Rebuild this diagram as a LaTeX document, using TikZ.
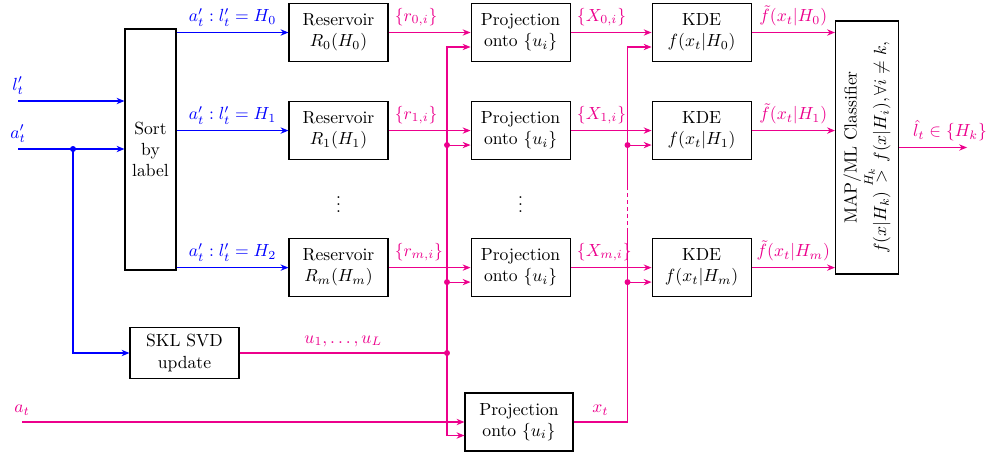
\documentclass[tikz,border=0pt]{standalone}
\usepackage{tikz}
\usetikzlibrary{arrows.meta,positioning,calc}
\definecolor{rosa}{RGB}{236,0,140}
\definecolor{azul}{RGB}{0,0,255}

\begin{document}
\begin{tikzpicture}[
    caja/.style={draw,line width=0.6pt,minimum width=1.98cm,minimum height=1.16cm,
                 align=center,inner sep=1pt},
    flecha/.style={->,line width=0.6pt},
    linea/.style={line width=0.6pt},
    punto/.style={circle,fill,inner sep=0pt,minimum size=3.4pt},
    >={Stealth[length=4.5pt,width=3.6pt]},node distance=0.78cm]
  \useasboundingbox (0,0) rectangle (19.76,-9.06);
  % bloques
  \node[caja] (res0) at (6.77,-0.65) {Reservoir\\$R_0(H_0)$};
  \node[caja,below=of res0] (res1) {Reservoir\\$R_1(H_1)$};
  \node[caja,below=1.56cm of res1] (resm) {Reservoir\\$R_m(H_m)$};
  \node[caja,right=1.64cm of res0] (proj0) {Projection\\onto $\{u_i\}$};
  \node[caja,right=1.64cm of res1] (proj1) {Projection\\onto $\{u_i\}$};
  \node[caja,right=1.64cm of resm] (projm) {Projection\\onto $\{u_i\}$};
  \node[caja,right=1.62cm of proj0] (kde0) {KDE\\$f(x_t|H_0)$};
  \node[caja,right=1.62cm of proj1] (kde1) {KDE\\$f(x_t|H_1)$};
  \node[caja,right=1.62cm of projm] (kdem) {KDE\\$f(x_t|H_m)$};
  \node[caja,minimum width=1.02cm,minimum height=4.82cm] (sort) at (3.01,-2.99) {Sort\\by\\label};
  \node[caja,minimum width=2.18cm,minimum height=1.02cm] (skl) at (3.69,-7.06) {SKL SVD\\update};
  \node[caja,minimum width=2.16cm] (projx) at (10.38,-8.44) {Projection\\onto $\{u_i\}$};
  \node[caja,rotate=90,minimum width=5.06cm,minimum height=1.26cm] (cls) at (17.34,-2.95)
    {MAP/ML Classifier\\$f(x|H_k)\stackrel{H_k}{>}f(x|H_i),\forall i\neq k,$};
  \node (vd1) at ($(res1)!0.5!(resm)$) {$\vdots$};
  \node (vd2) at ($(proj1)!0.5!(projm)$) {$\vdots$};
  % entradas
  \coordinate (lin) at (0.36,-2.02);
  \coordinate (ain) at (0.36,-2.98);
  \coordinate (asp) at (1.46,-2.98);
  \coordinate (atin) at (0.44,-8.44);
  \draw[flecha,azul] (lin) node[above]{$l'_t$} -- (lin -| sort.west);
  \draw[flecha,azul] (ain) node[above]{$a'_t$} -- (ain -| sort.west);
  \draw[flecha,azul] (asp) |- (skl.west);
  \node[punto,azul] (pa) at (asp) {};
  \draw[flecha,rosa] (atin) node[above]{$a_t$} -- (atin -| projx.west);
  % salidas del sort
  \draw[flecha,azul] (sort.east |- res0) -- node[above]{$a'_t : l'_t = H_0$} (res0.west);
  \draw[flecha,azul] (sort.east |- res1) -- node[above]{$a'_t : l'_t = H_1$} (res1.west);
  \draw[flecha,azul] (sort.east |- resm) -- node[above]{$a'_t : l'_t = H_2$} (resm.west);
  % reservorios -> proyecciones -> KDE
  \draw[flecha,rosa] (res0) -- node[above right,pos=0]{$\{r_{0,i}\}$} (proj0);
  \draw[flecha,rosa] (res1) -- node[above right,pos=0]{$\{r_{1,i}\}$} (proj1);
  \draw[flecha,rosa] (resm) -- node[above right,pos=0]{$\{r_{m,i}\}$} (projm);
  \draw[flecha,rosa] (proj0) -- node[above right,pos=0]{$\{X_{0,i}\}$} (kde0);
  \draw[flecha,rosa] (proj1) -- node[above right,pos=0]{$\{X_{1,i}\}$} (kde1);
  \draw[flecha,rosa] (projm) -- node[above right,pos=0]{$\{X_{m,i}\}$} (kdem);
  \draw[flecha,rosa] (kde0) -- node[above]{$\tilde{f}(x_t|H_0)$} (kde0 -| cls.north);
  \draw[flecha,rosa] (kde1) -- node[above]{$\tilde{f}(x_t|H_1)$} (kde1 -| cls.north);
  \draw[flecha,rosa] (kdem) -- node[above]{$\tilde{f}(x_t|H_m)$} (kdem -| cls.north);
  \coordinate (lout) at ($(cls.south)+(1.36,0)$);
  \draw[flecha,rosa] (cls.south) -- node[above,pos=0.75]{$\hat{l}_t \in \{H_k\}$} (lout);
  % bus u
  \coordinate (bus) at (8.94,-7.06);
  \coordinate (p0b) at ($(proj0.west)+(0,-0.29)$);
  \coordinate (p1b) at ($(proj1.west)+(0,-0.29)$);
  \coordinate (pmb) at ($(projm.west)+(0,-0.29)$);
  \coordinate (pxb) at ($(projx.west)+(0,-0.27)$);
  \draw[linea,rosa] (skl.east) -- node[above]{$u_1,\dots,u_L$} (bus);
  \draw[flecha,rosa] (bus) |- (p0b);
  \draw[flecha,rosa] (bus) |- (pxb);
  \draw[flecha,rosa] (bus |- p1b) -- (p1b);
  \draw[flecha,rosa] (bus |- pmb) -- (pmb);
  \node[punto,rosa] (pu) at (bus) {};
  \node[punto,rosa] (pu1) at (bus |- p1b) {};
  \node[punto,rosa] (pum) at (bus |- pmb) {};
  % bus x_t
  \coordinate (xb) at ($(projx.east)+(1.08,0)$);
  \coordinate (xc1) at (xb |- 0,-4.64);
  \coordinate (xc2) at (xb |- 0,-3.8);
  \coordinate (k0b) at ($(kde0.west)+(0,-0.29)$);
  \coordinate (k1b) at ($(kde1.west)+(0,-0.29)$);
  \coordinate (kmb) at ($(kdem.west)+(0,-0.29)$);
  \draw[linea,rosa] (projx.east) -- node[above]{$x_t$} (xb) -- (xc1);
  \draw[linea,rosa,dash pattern=on 2pt off 2pt] (xc1) -- (xc2);
  \draw[flecha,rosa] (xc2) |- (k0b);
  \draw[flecha,rosa] (xb |- k1b) -- (k1b);
  \draw[flecha,rosa] (xb |- kmb) -- (kmb);
  \node[punto,rosa] (px1) at (xb |- k1b) {};
  \node[punto,rosa] (pxm) at (xb |- kmb) {};
\end{tikzpicture}
\end{document}
